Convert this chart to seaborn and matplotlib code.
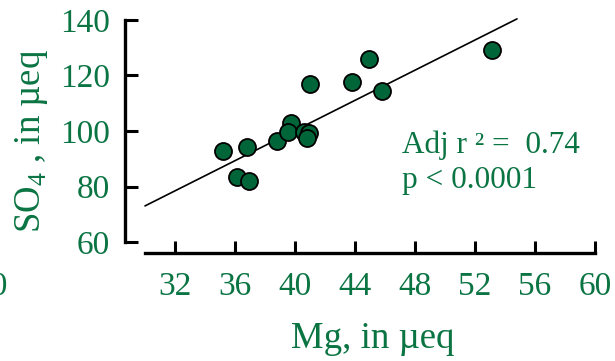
import numpy as np
import pandas as pd
import matplotlib
matplotlib.use('Agg')
import matplotlib.pyplot as plt
import seaborn as sns

# Mg vs SO4 (microequivalents)
mg = [35.2, 36.1, 36.9, 36.8, 38.8, 39.7, 39.5, 40.6, 40.9, 40.8, 41.0, 43.8, 44.9, 45.8, 53.1]
so4 = [92.9, 83.5, 82.0, 94.3, 96.4, 102.8, 99.7, 99.7, 99.2, 97.4, 116.9, 117.5, 126.0, 114.5, 129.2]

# regression line end points
fit_x = [30.0, 54.8]
fit_y = [73.0, 140.4]

x_ticks = [32, 36, 40, 44, 48, 52, 56, 60]
y_ticks = [60, 80, 100, 120, 140]

green = '#0b7443'
marker_green = '#00663a'

sns.set_style('white')
plt.rcParams['font.family'] = ['Liberation Serif', 'DejaVu Serif']
plt.rcParams['mathtext.fontset'] = 'custom'
plt.rcParams['mathtext.rm'] = 'Liberation Serif'

df = pd.DataFrame({'Mg': mg, 'SO4': so4})

W, H = 615, 361
fig = plt.figure(figsize=(W / 100, H / 100), dpi=100)
ax = fig.add_axes([145 / W, (H - 242) / H, (595 - 145) / W, (242 - 20) / H])

sns.lineplot(x=fit_x, y=fit_y, ax=ax, color='black', lw=1.2, clip_on=False)
sns.scatterplot(data=df, x='Mg', y='SO4', ax=ax, s=150, color=marker_green,
                edgecolor='black', linewidth=1.3, zorder=3, clip_on=False)

ax.set_xlim(30, 60)
ax.set_ylim(60, 140)
ax.set_xticks(x_ticks)
ax.set_yticks(y_ticks)

for s in ['top', 'right']:
    ax.spines[s].set_visible(False)
ax.spines['left'].set_position(('outward', 14.4))
ax.spines['bottom'].set_position(('outward', 7.9))
ax.spines['left'].set_bounds(60, 140)
ax.spines['bottom'].set_bounds(30, 60)
for s in ['left', 'bottom']:
    ax.spines[s].set_linewidth(2.4)
    ax.spines[s].set_color('black')

ax.tick_params(axis='both', direction='in', length=9, width=2.2, color='black',
               labelsize=24, labelcolor=green, bottom=True, left=True)
ax.tick_params(axis='x', pad=13)
ax.tick_params(axis='y', pad=11)

ax.set_xlabel('Mg, in µeq', fontsize=26.5, color=green)
ax.set_ylabel('SO$_4$ , in µeq', fontsize=26.5, color=green)
ax.xaxis.set_label_coords((373 - 145) / (595 - 145), -(322 - 242) / (242 - 20))
ax.yaxis.set_label_coords(-(145 - 50) / (595 - 145), (242 - 141) / (242 - 20))

ax.text(47.1, 95.0, 'Adj r ² =  0.74', fontsize=22.5, color=green, va='center')
ax.text(47.1, 82.0, 'p < 0.0001', fontsize=22.5, color=green, va='center')

# stray label cut at left edge
fig.text(8 / W, (H - 287) / H, '20', fontsize=24, color=green, ha='right', va='center')

fig.savefig('out.png', dpi=100)
